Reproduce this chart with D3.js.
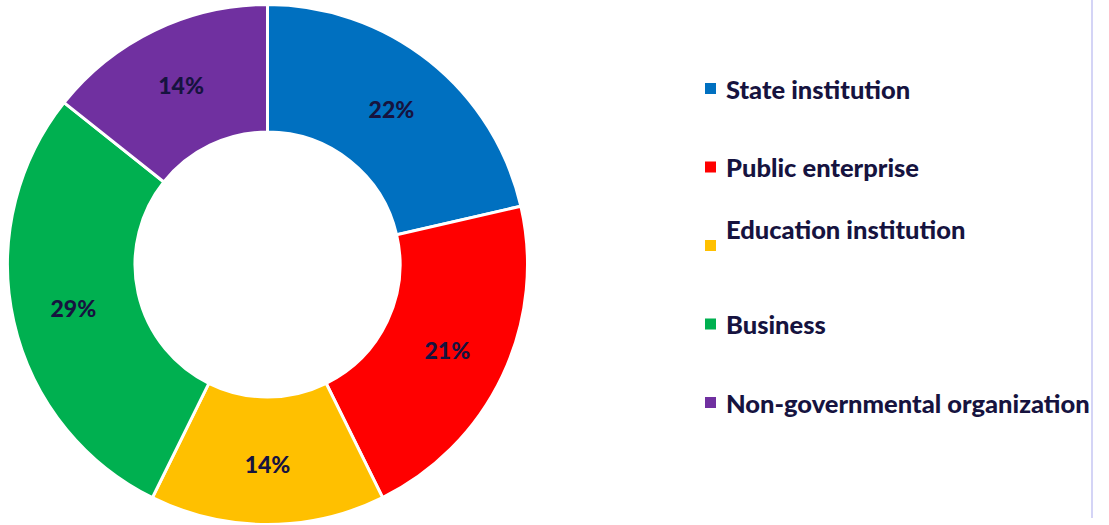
<!DOCTYPE html>
<html>
<head>
<meta charset="utf-8">
<script src="https://cdn.jsdelivr.net/npm/d3@7"></script>
<style>
  html, body { margin: 0; padding: 0; background: #ffffff; }
  svg { display: block; }
</style>
</head>
<body>
<svg id="chart" width="1109" height="525"></svg>
<script>
// ---- data ----
const categories = ["State institution", "Public enterprise", "Education institution", "Business", "Non-governmental organization"];
const values = [21.4, 21.3, 14.6, 28.4, 14.3];
const valueLabels = ["22%", "21%", "14%", "29%", "14%"];
const colors = ["#0070c0", "#ff0000", "#ffc000", "#00b050", "#7030a0"];
const legendLineCounts = [1, 1, 2, 1, 1];

const textColor = "#16133f";
const font = "Lato, 'Open Sans', sans-serif";

const svg = d3.select("#chart");

// divider line at right
svg.append("line")
  .attr("x1", 1092).attr("x2", 1092)
  .attr("y1", 0).attr("y2", 518)
  .attr("stroke", "#d4d4f6").attr("stroke-width", 2);

// ---- donut ----
const cx = 267.5, cy = 264.5;
const outerR = 260, innerR = 132.5;

const pie = d3.pie().sort(null).value(d => d.value);
const arcs = pie(categories.map((c, i) => ({ cat: c, value: values[i], label: valueLabels[i], color: colors[i] })));

const arc = d3.arc().innerRadius(innerR).outerRadius(outerR);
const labelArc = d3.arc().innerRadius(199).outerRadius(199);

const g = svg.append("g").attr("transform", `translate(${cx},${cy})`);

g.selectAll("path.slice")
  .data(arcs)
  .join("path")
  .attr("class", "slice")
  .attr("d", arc)
  .attr("fill", d => d.data.color)
  .attr("stroke", "#ffffff")
  .attr("stroke-width", 3)
  .attr("stroke-linejoin", "miter");

g.selectAll("text.val")
  .data(arcs)
  .join("text")
  .attr("class", "val")
  .attr("transform", d => `translate(${labelArc.centroid(d)})`)
  .attr("text-anchor", "middle")
  .attr("dominant-baseline", "central")
  .attr("font-family", font)
  .attr("font-weight", 900)
  .attr("font-size", 23)
  .attr("fill", textColor)
  .text(d => d.data.label);

// ---- legend ----
const legendY = d3.scalePoint()
  .domain(categories)
  .range([88.5, 402.5]);

const legend = svg.append("g");
const items = legend.selectAll("g.item")
  .data(categories.map((c, i) => ({ cat: c, color: colors[i], lines: legendLineCounts[i] })))
  .join("g")
  .attr("class", "item")
  .attr("transform", d => `translate(0,${legendY(d.cat)})`);

items.append("rect")
  .attr("x", 705).attr("y", -5.5)
  .attr("width", 11).attr("height", 11)
  .attr("fill", d => d.color);

const lineH = 30;
items.append("text")
  .attr("x", 726)
  .attr("y", d => 10 - (d.lines - 1) * lineH / 2 - (d.lines > 1 ? 2 : 0))
  .attr("font-family", font)
  .attr("font-weight", 900)
  .attr("font-size", 25.5)
  .attr("fill", textColor)
  .text(d => d.cat);
</script>
</body>
</html>
